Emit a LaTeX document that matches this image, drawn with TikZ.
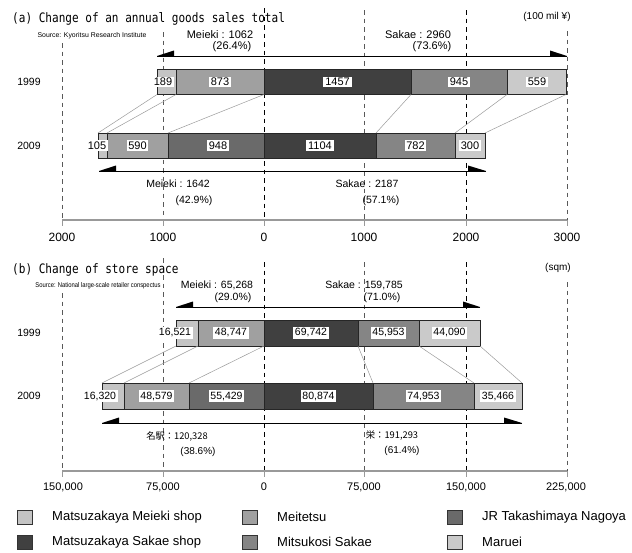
\documentclass[tikz,border=0pt]{standalone}
\usepackage{fontspec}
\setmainfont{Liberation Sans}
\newfontfamily\titlefont[FakeStretch=0.85]{DejaVu Sans Mono}
\newfontfamily\narrowfont[FakeStretch=0.85]{Liberation Sans}
\newfontfamily\cjkfont{Noto Sans CJK JP}
\definecolor{cMM}{HTML}{C4C4C4}
\definecolor{cMT}{HTML}{A0A0A0}
\definecolor{cJR}{HTML}{6A6A6A}
\definecolor{cMS}{HTML}{404040}
\definecolor{cMK}{HTML}{858585}
\definecolor{cMR}{HTML}{CACACA}
\definecolor{clink}{HTML}{9A9A9A}
\tikzset{
  seg/.style={draw=black!85, line width=0.7pt, anchor=west, inner sep=0pt, outer sep=0pt},
  segA/.style={seg, minimum height=25pt},
  segB/.style={seg, minimum height=26pt},
  numA/.style={fill=white, inner xsep=1.8pt, inner ysep=1.2pt, font=\fontsize{11}{11}\selectfont},
  numB/.style={fill=white, inner xsep=1.8pt, inner ysep=1.2pt, font=\fontsize{10.5}{10.5}\selectfont},
  gridmain/.style={black, line width=0.9pt, dash pattern=on 4.5pt off 4pt},
  gridsub/.style={black!65, line width=0.6pt, dash pattern=on 4.5pt off 4pt},
  link/.style={clink, line width=0.5pt},
  axisline/.style={black!40, line width=2pt},
  tickline/.style={black!40, line width=0.8pt},
  arrowline/.style={black, line width=0.8pt},
  txt/.style={inner sep=0pt, font=\fontsize{11}{11}\selectfont},
  txtS/.style={inner sep=0pt, font=\fontsize{10.5}{10.5}\selectfont},
  ticklab/.style={inner sep=0pt, font=\fontsize{12}{12}\selectfont},
  ticklabB/.style={inner sep=0pt, font=\fontsize{11}{11}\selectfont},
  yearlab/.style={inner sep=0pt, font=\fontsize{10.5}{10.5}\selectfont},
  titlelab/.style={inner sep=0pt, anchor=west, font=\titlefont\fontsize{13}{13}\selectfont},
  legsq/.style={draw=black!80, line width=0.6pt, minimum width=15pt, minimum height=14pt, inner sep=0pt, anchor=west},
  legtxt/.style={inner sep=0pt, anchor=west, font=\fontsize{13}{13}\selectfont},
}
\begin{document}
\begin{tikzpicture}[x=1pt, y=-1pt]
\useasboundingbox (0,0) rectangle (632,552);

% ---------- panel (a) ----------
% dashed grid
\foreach \xx/\ys in {62/43,163/32,364/10,567/31}{
  \draw[gridsub] (\xx,\ys) -- (\xx,220);
  \draw[tickline] (\xx,220) -- (\xx,226);
}
\foreach \xx/\ys in {264/8,466/10}{
  \draw[gridmain] (\xx,\ys) -- (\xx,220);
  \draw[tickline] (\xx,220) -- (\xx,226);
}
\coordinate (axAL) at (62,220);
\coordinate (axAR) at (567,220);
\draw[axisline] (axAL) -- (axAR);

\node[titlelab] (titleA) at (12,19) {(a) Change of an annual goods sales total};
\node[inner sep=0pt, font=\fontsize{6.9}{6.9}\selectfont] (srcA) at (92,36) {Source: Kyoritsu Research Institute};
\node[inner sep=0pt, font=\fontsize{10}{10}\selectfont] (unitA) at (547,17) {(100 mil ¥)};

\node[txt] (aMtop) at (220,35) {Meieki : 1062};
\node[txt] (aMtopP) at (232,47) {(26.4\%)};
\node[txt] (aStop) at (418,35) {Sakae : 2960};
\node[txt] (aStopP) at (432,47) {(73.6\%)};

\node[yearlab] (yA1) at (29,82) {1999};
\node[yearlab] (yA2) at (29,145.5) {2009};

% 1999 bar
\node[segA, fill=cMM, minimum width=19pt] (a11) at (157,82) {};
\node[segA, fill=cMT, minimum width=88pt] (a12) at (176,82) {};
\node[segA, fill=cMS, minimum width=147pt] (a13) at (264,82) {};
\node[segA, fill=cMK, minimum width=96pt] (a14) at (411,82) {};
\node[segA, fill=cMR, minimum width=59pt] (a15) at (507,82) {};
% 2009 bar
\node[segA, fill=cMM, minimum width=9pt] (a21) at (98,145.5) {};
\node[segA, fill=cMT, minimum width=61pt] (a22) at (107,145.5) {};
\node[segA, fill=cJR, minimum width=96pt] (a23) at (168,145.5) {};
\node[segA, fill=cMS, minimum width=112pt] (a24) at (264,145.5) {};
\node[segA, fill=cMK, minimum width=79pt] (a25) at (376,145.5) {};
\node[segA, fill=cMR, minimum width=30pt] (a26) at (455,145.5) {};
% links
\draw[link] (a11.south west) -- (a21.north west);
\draw[link] (a12.south west) -- (a22.north west);
\draw[link] (a13.south west) -- (a23.north west);
\draw[link] (a14.south west) -- (a25.north west);
\draw[link] (a15.south west) -- (a26.north west);
\draw[link] (a15.south east) -- (a26.north east);
% numbers
\node[numA] (a11l) at (163,82) {189};
\node[numA] (a12l) at (220,82) {873};
\node[numA] (a13l) at (337.5,82) {1457};
\node[numA] (a14l) at (459,82) {945};
\node[numA] (a15l) at (537,82) {559};
\node[numA] (a21l) at (97,145.5) {105};
\node[numA] (a22l) at (137.5,145.5) {590};
\node[numA] (a23l) at (218,145.5) {948};
\node[numA] (a24l) at (320,145.5) {1104};
\node[numA] (a25l) at (415.5,145.5) {782};
\node[numA] (a26l) at (470,145.5) {300};

% arrows (a)
\coordinate (aUL) at (157,56);
\coordinate (aUR) at (567,56);
\draw[arrowline] (aUL) -- (aUR);
\fill (aUL) -- ++(17,0) -- ++(0,-5.5) -- cycle;
\fill (aUR) -- ++(-17,0) -- ++(0,-5.5) -- cycle;
\coordinate (aLL) at (99,171);
\coordinate (aLR) at (486,171);
\draw[arrowline] (aLL) -- (aLR);
\fill (aLL) -- ++(17,0) -- ++(0,-5.5) -- cycle;
\fill (aLR) -- ++(-18,0) -- ++(0,-5.5) -- cycle;

\node[txtS] (aMbot) at (178,184) {Meieki : 1642};
\node[txtS] (aMbotP) at (194,201) {(42.9\%)};
\node[txtS] (aSbot) at (367,184) {Sakae : 2187};
\node[txtS] (aSbotP) at (381,201) {(57.1\%)};

\node[ticklab] (tA1) at (62,237) {2000};
\node[ticklab] (tA2) at (163,237) {1000};
\node[ticklab] (tA3) at (264,237) {0};
\node[ticklab] (tA4) at (364,237) {1000};
\node[ticklab] (tA5) at (466,237) {2000};
\node[ticklab] (tA6) at (567,237) {3000};

% ---------- panel (b) ----------
\foreach \xx/\ys in {62/293,163/258,364/262,567/282}{
  \draw[gridsub] (\xx,\ys) -- (\xx,471);
  \draw[tickline] (\xx,471) -- (\xx,477);
}
\foreach \xx/\ys in {264/262,466/262}{
  \draw[gridmain] (\xx,\ys) -- (\xx,471);
  \draw[tickline] (\xx,471) -- (\xx,477);
}
\coordinate (axBL) at (62,471);
\coordinate (axBR) at (567,471);
\draw[axisline] (axBL) -- (axBR);

\node[titlelab] (titleB) at (12,270) {(b) Change of store space};
\node[inner sep=0pt, font=\narrowfont\fontsize{6.9}{6.9}\selectfont] (srcB) at (98,286) {Source: National large-scale retailer conspectus};
\node[inner sep=0pt, font=\fontsize{10}{10}\selectfont] (unitB) at (558,268) {(sqm)};

\node[txtS] (bMtop) at (217,285) {Meieki : 65,268};
\node[txtS] (bMtopP) at (233,298) {(29.0\%)};
\node[txtS] (bStop) at (364,285) {Sakae : 159,785};
\node[txtS] (bStopP) at (382,298) {(71.0\%)};

\node[yearlab] (yB1) at (29,333) {1999};
\node[yearlab] (yB2) at (29,396) {2009};

% 1999 bar
\node[segB, fill=cMM, minimum width=22pt] (b11) at (176,333) {};
\node[segB, fill=cMT, minimum width=66pt] (b12) at (198,333) {};
\node[segB, fill=cMS, minimum width=94pt] (b13) at (264,333) {};
\node[segB, fill=cMK, minimum width=61pt] (b14) at (358,333) {};
\node[segB, fill=cMR, minimum width=61pt] (b15) at (419,333) {};
% 2009 bar
\node[segB, fill=cMM, minimum width=22pt] (b21) at (102,396) {};
\node[segB, fill=cMT, minimum width=65pt] (b22) at (124,396) {};
\node[segB, fill=cJR, minimum width=75pt] (b23) at (189,396) {};
\node[segB, fill=cMS, minimum width=109pt] (b24) at (264,396) {};
\node[segB, fill=cMK, minimum width=101pt] (b25) at (373,396) {};
\node[segB, fill=cMR, minimum width=48pt] (b26) at (474,396) {};
% links
\draw[link] (b11.south west) -- (b21.north west);
\draw[link] (b12.south west) -- (b22.north west);
\draw[link] (b13.south west) -- (b23.north west);
\draw[link] (b14.south west) -- (b25.north west);
\draw[link] (b15.south west) -- (b26.north west);
\draw[link] (b15.south east) -- (b26.north east);
% numbers
\node[numB] (b11l) at (175,333) {16,521};
\node[numB] (b12l) at (231,333) {48,747};
\node[numB] (b13l) at (311,333) {69,742};
\node[numB] (b14l) at (388.5,333) {45,953};
\node[numB] (b15l) at (449.5,333) {44,090};
\node[numB] (b21l) at (100,396) {16,320};
\node[numB] (b22l) at (156.5,396) {48,579};
\node[numB] (b23l) at (226.5,396) {55,429};
\node[numB] (b24l) at (318.5,396) {80,874};
\node[numB] (b25l) at (423.5,396) {74,953};
\node[numB] (b26l) at (498,396) {35,466};

% arrows (b)
\coordinate (bUL) at (176,307);
\coordinate (bUR) at (480,307);
\draw[arrowline] (bUL) -- (bUR);
\fill (bUL) -- ++(17,0) -- ++(0,-5.5) -- cycle;
\fill (bUR) -- ++(-17,0) -- ++(0,-5.5) -- cycle;
\coordinate (bLL) at (102,423);
\coordinate (bLR) at (522,423);
\draw[arrowline] (bLL) -- (bLR);
\fill (bLL) -- ++(17,0) -- ++(0,-5.5) -- cycle;
\fill (bLR) -- ++(-18,0) -- ++(0,-5.5) -- cycle;

\node[inner sep=0pt, font=\cjkfont\fontsize{9.3}{9.3}\selectfont] (bMbot) at (177,436) {名駅：120,328};
\node[inner sep=0pt, font=\fontsize{10}{10}\selectfont] (bMbotP) at (198,452) {(38.6\%)};
\node[inner sep=0pt, font=\cjkfont\fontsize{9.3}{9.3}\selectfont] (bSbot) at (392,435) {栄：191,293};
\node[inner sep=0pt, font=\fontsize{10}{10}\selectfont] (bSbotP) at (402,451) {(61.4\%)};

\node[ticklabB] (tB1) at (63,487) {150,000};
\node[ticklabB] (tB2) at (163,487) {75,000};
\node[ticklabB] (tB3) at (264,487) {0};
\node[ticklabB] (tB4) at (364,487) {75,000};
\node[ticklabB] (tB5) at (466,487) {150,000};
\node[ticklabB] (tB6) at (566,487) {225,000};

% ---------- legend ----------
\node[legsq, fill=cMM] (lg1) at (17,517) {};
\node[legtxt] (lt1) at (52,517) {Matsuzakaya Meieki shop};
\node[legsq, fill=cMT] (lg2) at (242,517) {};
\node[legtxt] (lt2) at (277,517) {Meitetsu};
\node[legsq, fill=cJR] (lg3) at (447,517) {};
\node[legtxt] (lt3) at (482,517) {JR Takashimaya Nagoya};
\node[legsq, fill=cMS] (lg4) at (17,542) {};
\node[legtxt] (lt4) at (52,542) {Matsuzakaya Sakae shop};
\node[legsq, fill=cMK] (lg5) at (242,542) {};
\node[legtxt] (lt5) at (277,542) {Mitsukosi Sakae};
\node[legsq, fill=cMR] (lg6) at (447,542) {};
\node[legtxt] (lt6) at (482,542) {Maruei};
\end{tikzpicture}
\end{document}
